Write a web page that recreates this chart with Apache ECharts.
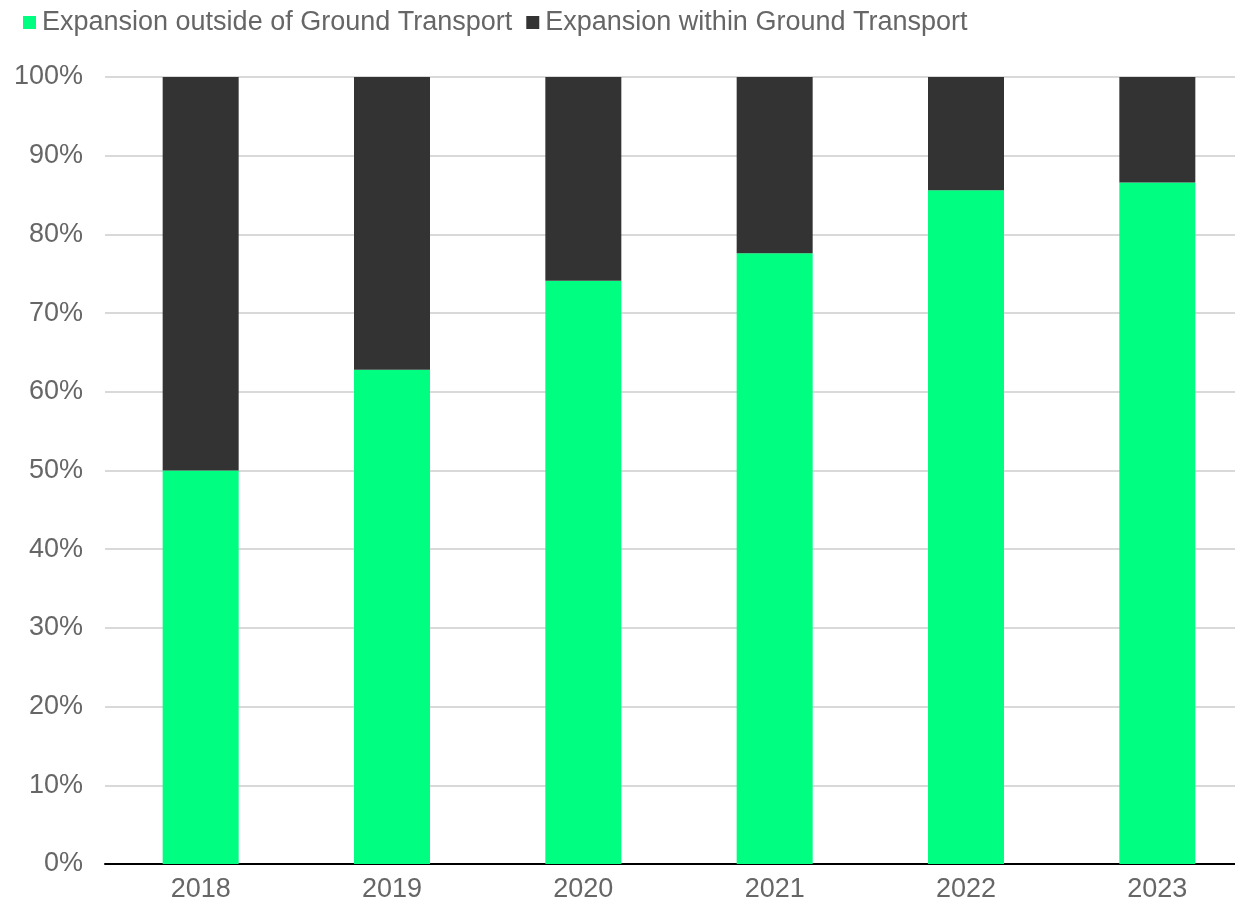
<!DOCTYPE html>
<html><head><meta charset="utf-8">
<script src="https://cdn.jsdelivr.net/npm/echarts@6/dist/echarts.min.js"></script>
<style>html,body{margin:0;padding:0;background:#fff}#c{width:1235px;height:903px}</style>
</head><body><div id="c"></div>
<script>
const categories = ['2018','2019','2020','2021','2022','2023'];
const outsideGround = [50.0, 62.8, 74.1, 77.6, 85.6, 86.6];
const withinGround = [50.0, 37.2, 25.9, 22.4, 14.4, 13.4];
const seriesNames = ['Expansion outside of Ground Transport','Expansion within Ground Transport'];
const FONT = 'Liberation Sans';
const chart = echarts.init(document.getElementById('c'), null, {renderer:'canvas'});
chart.setOption({
  animation:false,
  textStyle:{fontFamily:FONT},
  legend:{
    left:18, top:4, itemWidth:13, itemHeight:13, itemGap:14,
    icon:'rect',
    textStyle:{fontFamily:FONT, fontSize:27, color:'#666666', padding:[0,0,0,1]},
    data:seriesNames
  },
  grid:{left:105, width:1148, top:77, bottom:39, containLabel:false, outerBoundsMode:'none'},
  xAxis:{
    type:'category', data:categories,
    axisLine:{lineStyle:{color:'#000', width:2}},
    axisTick:{show:false},
    axisLabel:{fontFamily:FONT, fontSize:27, color:'#666666', margin:12}
  },
  yAxis:{
    type:'value', min:0, max:100, interval:10,
    axisLine:{show:false}, axisTick:{show:false},
    splitLine:{lineStyle:{color:'#d9d9d9', width:2}},
    axisLabel:{fontFamily:FONT, fontSize:27, color:'#666666', margin:22, formatter:v=>v+'%'}
  },
  series:[
    {name:seriesNames[0], type:'bar', stack:'a', data:outsideGround, barWidth:76, itemStyle:{color:'#00FF80'}},
    {name:seriesNames[1], type:'bar', stack:'a', data:withinGround, barWidth:76, itemStyle:{color:'#333333'}}
  ]
});
</script></body></html>
